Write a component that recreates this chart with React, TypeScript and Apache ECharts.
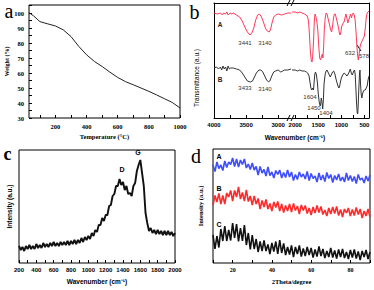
import React, { useEffect, useRef } from "react";
import * as echarts from "echarts";

// ---------- Panel a : TGA ----------
const tgaTemp = [30, 60, 100, 150, 200, 250, 300, 350, 400, 450, 500, 550, 600, 650, 700, 750, 800, 850, 900, 950, 1000];
const tgaWeight = [100.4, 98.2, 94.4, 92.9, 91.5, 88.9, 84.4, 77.8, 72.2, 67.8, 64.4, 60.6, 57.1, 54.3, 52.2, 50.0, 47.8, 45.4, 42.9, 40.4, 36.7];
const tgaXLabels = [200, 400, 600, 800, 1000];
const tgaXTicks = [100, 200, 300, 400, 500, 600, 700, 800, 900, 1000];
const tgaYLabels = [30, 40, 50, 60, 70, 80, 90, 100];
const tgaYTicks = [30, 35, 40, 45, 50, 55, 60, 65, 70, 75, 80, 85, 90, 95, 100, 105];

// ---------- Panel b : FTIR (broken axis) ----------
const ftirALeft = [
  [4000, 105], [3950, 104], [3900, 105], [3870, 103], [3850, 105], [3820, 104], [3800, 106], [3780, 103], [3750, 105],
  [3720, 104], [3700, 105], [3650, 103], [3600, 101], [3560, 97], [3520, 91], [3480, 86], [3441, 83], [3410, 85],
  [3380, 90], [3350, 98], [3320, 103], [3290, 104], [3260, 101], [3230, 96], [3200, 90], [3170, 87], [3140, 86],
  [3120, 88], [3100, 94], [3070, 101], [3040, 103], [3000, 104], [2950, 103], [2900, 104], [2850, 105], [2800, 105],
];
const ftirARight = [
  [2070, 106], [2000, 106], [1950, 105], [1900, 106], [1850, 105], [1800, 104], [1760, 103], [1730, 101], [1710, 96],
  [1690, 82], [1670, 65], [1650, 57], [1635, 56], [1620, 62], [1600, 80], [1585, 98], [1570, 104], [1550, 101],
  [1530, 96], [1510, 88], [1490, 72], [1470, 60], [1450, 58], [1430, 62], [1410, 64], [1400, 60], [1385, 70],
  [1370, 88], [1350, 100], [1330, 105], [1310, 104], [1290, 100], [1260, 94], [1230, 88], [1210, 86], [1190, 92],
  [1170, 100], [1150, 104], [1130, 104], [1110, 100], [1090, 96], [1060, 90], [1040, 84], [1025, 83], [1010, 86],
  [990, 92], [960, 95], [940, 96], [920, 100], [900, 104], [880, 100], [860, 95], [840, 98], [820, 101], [800, 104],
  [780, 100], [760, 104], [740, 105], [720, 103], [700, 98], [680, 85], [660, 70], [645, 62], [632, 58], [620, 62],
  [605, 68], [590, 72], [578, 74], [560, 76], [540, 78], [520, 80], [500, 82], [480, 90], [460, 100], [440, 105],
  [420, 106], [400, 107],
];
const ftirBLeft = [
  [4000, 50], [3960, 51], [3930, 49], [3900, 51], [3880, 48], [3860, 52], [3840, 49], [3820, 51], [3800, 47],
  [3780, 52], [3760, 49], [3740, 50], [3700, 50], [3650, 49], [3600, 48], [3560, 45], [3520, 41], [3480, 37],
  [3433, 36], [3400, 37], [3370, 41], [3340, 45], [3300, 48], [3270, 48], [3240, 46], [3210, 42], [3180, 38],
  [3150, 36], [3130, 37], [3100, 42], [3070, 46], [3040, 47], [3000, 48], [2960, 46], [2930, 47], [2900, 48],
  [2850, 48], [2800, 49],
];
const ftirBRight = [
  [2070, 48], [2000, 48], [1950, 47], [1900, 48], [1850, 47], [1800, 47], [1760, 46], [1730, 45], [1700, 42],
  [1680, 36], [1660, 30], [1640, 28], [1620, 30], [1604, 28], [1590, 36], [1575, 44], [1560, 46], [1540, 43],
  [1520, 36], [1500, 24], [1480, 16], [1460, 12], [1450, 13], [1435, 20], [1420, 16], [1404, 9], [1390, 18],
  [1375, 34], [1350, 44], [1330, 47], [1310, 48], [1290, 46], [1260, 43], [1240, 41], [1220, 43], [1190, 46],
  [1166, 47], [1140, 44], [1110, 38], [1080, 33], [1055, 30], [1040, 31], [1020, 36], [1000, 40], [970, 43],
  [940, 45], [911, 44], [880, 42], [850, 44], [830, 46], [805, 49], [780, 44], [760, 43], [740, 46], [715, 48],
  [700, 44], [685, 30], [670, 15], [655, 5], [645, 4], [635, 12], [620, 30], [605, 45], [595, 48], [585, 35],
  [570, 24], [555, 20], [540, 24], [520, 27], [500, 28], [480, 28], [460, 30], [440, 32], [420, 38], [400, 42],
];
const ftirLeftLabels = [4000, 3500, 3000];
const ftirLeftTicks = [4000, 3750, 3500, 3250, 3000];
const ftirRightLabels = [2000, 1500, 1000, 500];
const ftirRightTicks = [2000, 1750, 1500, 1250, 1000, 750, 500];

// ---------- Panel c : Raman ----------
const ramanStart = 200;
const ramanStep = 20;
const ramanIntensity = [
  17, 13, 16, 12, 17, 14, 18, 14, 17, 14,
  19, 15, 18, 15, 20, 16, 19, 16, 20, 17,
  21, 17, 20, 17, 21, 18, 21, 18, 22, 18,
  22, 19, 23, 19, 23, 20, 25, 21, 26, 23,
  27, 24, 30, 27, 33, 31, 38, 38, 45, 42,
  48, 48, 57, 58, 67, 69, 77, 77, 84, 78,
  81, 73, 77, 69, 70, 67, 77, 80, 92, 98,
  103, 90, 77, 50, 40, 32, 35, 30, 33, 29,
  33, 29, 32, 28, 32, 28, 32, 28, 31, 27,
  30,
];
const ramanLabels = [200, 400, 600, 800, 1000, 1200, 1400, 1600, 1800, 2000];
const ramanTicks = [200, 300, 400, 500, 600, 700, 800, 900, 1000, 1100, 1200, 1300, 1400, 1500, 1600, 1700, 1800, 1900, 2000];

// ---------- Panel d : XRD ----------
const xrdStart = 10;
const xrdStep = 1;
const xrdA = [
  98, 91.5, 101, 94.5, 98, 92.5, 102, 95.5, 101, 98.5,
  105, 96.5, 104, 96, 103, 98.5, 104, 95, 99, 93.5,
  100, 93, 96.5, 88, 96.5, 90, 93.5, 87, 96, 87.5,
  91, 85, 92.5, 88.5, 93, 85, 90.5, 85.5, 93, 86,
  91, 82.5, 88.5, 83.5, 91, 86, 89, 84, 91.5, 82.5,
  89.5, 84.5, 87, 81, 90, 83, 88, 81.5, 90.5, 84.5,
  88.5, 80.5, 87.5, 83, 89, 82, 86, 81, 90, 82.5,
  87.5, 81.5, 86.5, 79.5, 88.5, 83, 85, 80, 87, 82,
  88,
];
const xrdB = [
  58, 67.5, 61, 69.5, 59, 67.5, 59, 70, 66, 72.5,
  62, 72.5, 66, 76, 64, 70.5, 62, 73, 61.5, 67,
  58, 67, 59, 64.5, 54, 62.5, 56, 63.5, 54, 59.5,
  52, 61, 55.5, 61.5, 52, 59, 50.5, 57.5, 52, 59,
  51, 59.5, 52.5, 57, 49, 58, 52.5, 57.5, 49.5, 55,
  48, 56, 50, 57.5, 50.5, 56.5, 48.5, 53, 47, 55,
  49, 56, 49.5, 56.5, 47.5, 53.5, 46, 54, 50, 55,
  47, 53.5, 47.5, 55.5, 48.5, 54, 45, 52, 47, 54,
  46,
];
const xrdC = [
  28, 14, 27, 15.5, 34, 22, 37, 22, 33, 22.5,
  40, 25, 39, 21.5, 35, 22, 38, 18, 30, 13.5,
  28, 14, 24, 11, 21.5, 12, 22.5, 12, 18.5, 9,
  20, 11.5, 21.5, 9, 23, 10, 19.5, 8, 16, 8.5,
  17.5, 6, 16, 9, 17.5, 6.5, 14.5, 7, 16, 8,
  15, 5.5, 13.5, 6.5, 16.5, 7, 14, 5, 12, 6,
  15, 5.5, 12.5, 4.5, 13.5, 6, 14, 5, 11, 4,
  13, 5.5, 13.5, 4.5, 11.5, 3, 12, 6, 13, 4,
  11,
];
const xrdLabels = [20, 40, 60, 80];
const xrdTicks = [10, 20, 30, 40, 50, 60, 70, 80, 90];

const SERIF = "Liberation Serif";
const SANS = "Liberation Sans";

function buildOption() {
  const tga = tgaTemp.map((t, i) => [t, tgaWeight[i]]);
  const raman = ramanIntensity.map((v, i) => [ramanStart + i * ramanStep, v]);
  const toXrd = (arr: number[]) => arr.map((v, i) => [xrdStart + i * xrdStep, v]);

  const border = { show: true, borderColor: "#000", borderWidth: 1, backgroundColor: "transparent" };
  const tick = (vals: number[]) => ({ show: true, inside: true, length: 3, customValues: vals, lineStyle: { color: "#000", width: 1 } });
  const lbl = (vals: number[], family: string, size: number, margin = 4) => ({
    show: true, customValues: vals, fontFamily: family, fontWeight: "bold", fontSize: size, color: "#000", margin,
    formatter: (v: number) => String(v),
  });
  const noLbl = { show: false };
  const noTick = { show: false };
  const line = { show: true, lineStyle: { color: "#000", width: 1 } };
  const noLine = { show: false };
  const nameStyle = (family: string, size: number) => ({ fontFamily: family, fontWeight: "bold", fontSize: size, color: "#000" });

  const text = (t: string, x: number, y: number, size: number, family: string, weight = "normal", color = "#000") => ({
    type: "text", x, y, silent: true,
    style: { text: t, fontSize: size, fontFamily: family, fontWeight: weight, fill: color, textAlign: "center", textVerticalAlign: "middle", align: "center", verticalAlign: "middle" },
  });
  const seg = (x1: number, y1: number, x2: number, y2: number) => ({
    type: "line", silent: true, shape: { x1, y1, x2, y2 }, style: { stroke: "#000", lineWidth: 1 },
  });

  return {
    animation: false,
    backgroundColor: "#fff",
    grid: [
      { left: 29, top: 5, width: 151, height: 113, ...border, outerBoundsMode: "none", containLabel: false },
      { left: 214, top: 3, width: 77, height: 115, show: false, outerBoundsMode: "none", containLabel: false },
      { left: 292, top: 3, width: 77, height: 115, show: false, outerBoundsMode: "none", containLabel: false },
      { left: 19, top: 150, width: 156, height: 113, ...border, outerBoundsMode: "none", containLabel: false },
      { left: 213, top: 149, width: 157, height: 114, ...border, outerBoundsMode: "none", containLabel: false },
    ],
    xAxis: [
      {
        gridIndex: 0, type: "value", min: 30, max: 1000, axisLine: noLine, splitLine: { show: false },
        axisTick: tick(tgaXTicks), axisLabel: lbl(tgaXLabels, SERIF, 6.5, 5),
        name: "Temperature (°C)", nameLocation: "middle", nameGap: 15, nameTextStyle: nameStyle(SERIF, 6.5),
      },
      {
        gridIndex: 1, type: "value", min: 2800, max: 4000, inverse: true, axisLine: line, splitLine: { show: false },
        axisTick: tick(ftirLeftTicks), axisLabel: lbl(ftirLeftLabels, SANS, 6),
      },
      {
        gridIndex: 1, type: "value", position: "top", min: 2800, max: 4000, inverse: true, axisLine: line,
        splitLine: { show: false }, axisTick: noTick, axisLabel: noLbl,
      },
      {
        gridIndex: 2, type: "value", min: 400, max: 2070, inverse: true, axisLine: line, splitLine: { show: false },
        axisTick: tick(ftirRightTicks), axisLabel: lbl(ftirRightLabels, SANS, 6),
      },
      {
        gridIndex: 2, type: "value", position: "top", min: 400, max: 2070, inverse: true, axisLine: line,
        splitLine: { show: false }, axisTick: noTick, axisLabel: noLbl,
      },
      {
        gridIndex: 3, type: "value", min: 200, max: 2000, axisLine: noLine, splitLine: { show: false },
        axisTick: tick(ramanTicks), axisLabel: lbl(ramanLabels, SANS, 6),
        name: "Wavenumber (cm⁻¹)", nameLocation: "middle", nameGap: 15, nameTextStyle: nameStyle(SANS, 6.5),
      },
      {
        gridIndex: 4, type: "value", min: 10, max: 90, axisLine: noLine, splitLine: { show: false },
        axisTick: tick(xrdTicks), axisLabel: lbl(xrdLabels, SERIF, 6),
        name: "2Theta/degree", nameLocation: "middle", nameGap: 15, nameTextStyle: nameStyle(SERIF, 6.5),
      },
    ],
    yAxis: [
      {
        gridIndex: 0, type: "value", min: 30, max: 105.5, axisLine: noLine, splitLine: { show: false },
        axisTick: tick(tgaYTicks), axisLabel: lbl(tgaYLabels, SERIF, 6.5, 5),
        name: "Weight (%)", nameLocation: "middle", nameGap: 18, nameRotate: 90, nameTextStyle: nameStyle(SERIF, 6),
      },
      {
        gridIndex: 1, type: "value", min: 0, max: 115, axisLine: line, splitLine: { show: false },
        axisTick: noTick, axisLabel: noLbl,
      },
      {
        gridIndex: 2, type: "value", position: "right", min: 0, max: 115, axisLine: line, splitLine: { show: false },
        axisTick: noTick, axisLabel: noLbl,
      },
      {
        gridIndex: 3, type: "value", min: 0, max: 113, axisLine: noLine, splitLine: { show: false },
        axisTick: noTick, axisLabel: noLbl,
        name: "Intensity (a.u.)", nameLocation: "middle", nameGap: 6, nameRotate: 90, nameTextStyle: nameStyle(SANS, 6.5),
      },
      {
        gridIndex: 4, type: "value", min: 0, max: 114, axisLine: noLine, splitLine: { show: false },
        axisTick: noTick, axisLabel: noLbl,
        name: "Intensity (a.u.)", nameLocation: "middle", nameGap: 9, nameRotate: 90, nameTextStyle: nameStyle(SERIF, 6.5),
      },
    ],
    series: [
      { type: "line", xAxisIndex: 0, yAxisIndex: 0, data: tga, showSymbol: false, symbol: "none", lineStyle: { color: "#222", width: 1 } },
      { type: "line", xAxisIndex: 1, yAxisIndex: 1, data: ftirALeft, symbol: "none", lineStyle: { color: "#ff3a5c", width: 1 } },
      { type: "line", xAxisIndex: 3, yAxisIndex: 2, data: ftirARight, symbol: "none", lineStyle: { color: "#ff3a5c", width: 1 } },
      { type: "line", xAxisIndex: 1, yAxisIndex: 1, data: ftirBLeft, symbol: "none", lineStyle: { color: "#333", width: 1 } },
      { type: "line", xAxisIndex: 3, yAxisIndex: 2, data: ftirBRight, symbol: "none", lineStyle: { color: "#333", width: 1 } },
      { type: "line", xAxisIndex: 5, yAxisIndex: 3, data: raman, symbol: "none", lineStyle: { color: "#111", width: 1.9 } },
      { type: "line", xAxisIndex: 6, yAxisIndex: 4, data: toXrd(xrdA), symbol: "none", lineStyle: { color: "#3d4dff", width: 1.6 } },
      { type: "line", xAxisIndex: 6, yAxisIndex: 4, data: toXrd(xrdB), symbol: "none", lineStyle: { color: "#ff2a2a", width: 1.6 } },
      { type: "line", xAxisIndex: 6, yAxisIndex: 4, data: toXrd(xrdC), symbol: "none", lineStyle: { color: "#111", width: 1.6 } },
    ],
    graphic: [
      // panel letters
      text("a", 9, 11, 20, SERIF),
      text("b", 194.5, 11.5, 20, SERIF),
      text("c", 7.5, 154, 18, SERIF, "bold"),
      text("d", 196, 156, 20, SERIF),
      // panel b annotations
      text("A", 220, 24, 6.5, SANS, "bold", "#222"),
      text("B", 220, 79, 6.5, SANS, "bold", "#222"),
      text("3441", 245, 43, 6, SANS, "normal", "#333"),
      text("3140", 265, 43, 6, SANS, "normal", "#333"),
      text("632", 350, 53, 6, SANS, "normal", "#333"),
      text("578", 364, 56, 6, SANS, "normal", "#333"),
      text("3433", 245, 88, 6, SANS, "normal", "#333"),
      text("3140", 265, 89, 6, SANS, "normal", "#333"),
      text("1604", 310, 97, 6, SANS, "normal", "#333"),
      text("1450", 314, 108, 6, SANS, "normal", "#333"),
      text("1404", 326, 113, 6, SANS, "normal", "#333"),
      seg(357, 45, 361, 51),
      {
        type: "text", x: 196, y: 78, rotation: Math.PI / 2, silent: true,
        style: { text: "Transmittance (a.u.)", fontSize: 6.5, fontFamily: SANS, fontWeight: "normal", fill: "#000", textAlign: "center", textVerticalAlign: "middle", align: "center", verticalAlign: "middle" },
      },
      text("Wavenumber (cm⁻¹)", 295, 137, 6.5, SANS, "bold"),
      // axis break marks
      { type: "rect", silent: true, shape: { x: 288, y: 0, width: 7, height: 6 }, style: { fill: "#fff" } },
      { type: "rect", silent: true, shape: { x: 288, y: 115, width: 7, height: 6 }, style: { fill: "#fff" } },
      seg(287, 6, 290, 0), seg(291, 6, 294, 0),
      seg(287, 121, 290, 115), seg(291, 121, 294, 115),
      // panel c annotations
      text("D", 122, 169, 7, SANS, "bold"),
      text("G", 138, 152, 7, SANS, "bold"),
      // panel d annotations
      text("A", 219, 156, 7, SANS, "bold"),
      text("B", 219, 188, 7, SANS, "bold"),
      text("C", 219, 224, 7, SANS, "bold"),
    ],
  };
}

export default function App() {
  const ref = useRef<HTMLDivElement>(null);
  useEffect(() => {
    const chart = echarts.init(ref.current!, null, { renderer: "svg" });
    chart.setOption(buildOption() as any);
    return () => chart.dispose();
  }, []);
  return (
    <div
      ref={ref}
      style={{ position: "absolute", left: 0, top: 0, width: 374, height: 290, background: "#fff" }}
    />
  );
}
